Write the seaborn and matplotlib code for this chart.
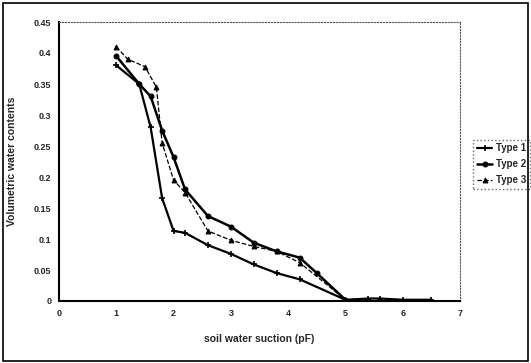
import pandas as pd
import seaborn as sns
import matplotlib.pyplot as plt
from matplotlib.patches import Rectangle

# pF values and volumetric water contents
pf_1 = [1.0, 1.4, 1.6, 1.8, 2.0, 2.2, 2.6, 3.0, 3.4, 3.8, 4.2, 5.0, 5.4, 5.6, 6.0, 6.5]
wc_1 = [0.38, 0.35, 0.28, 0.166, 0.113, 0.11, 0.09, 0.076, 0.059, 0.045, 0.035, 0.002, 0.004, 0.004, 0.002, 0.002]

pf_2 = [1.0, 1.4, 1.6, 1.8, 2.0, 2.2, 2.6, 3.0, 3.4, 3.8, 4.2, 4.5, 5.0]
wc_2 = [0.395, 0.35, 0.33, 0.275, 0.232, 0.18, 0.137, 0.12, 0.094, 0.08, 0.07, 0.045, 0.002]

pf_3 = [1.0, 1.2, 1.5, 1.7, 1.8, 2.0, 2.2, 2.6, 3.0, 3.4, 3.8, 4.2, 5.0]
wc_3 = [0.41, 0.39, 0.378, 0.345, 0.255, 0.195, 0.175, 0.113, 0.098, 0.088, 0.08, 0.062, 0.002]

labels = ['Type 1', 'Type 2', 'Type 3']

sns.set_style('white')
plt.rcParams['font.family'] = ['Liberation Sans', 'DejaVu Sans']
plt.rcParams['font.weight'] = 'bold'

fig = plt.figure(figsize=(5.31, 3.63), dpi=100)
fig.patches.append(Rectangle((0.006, 0.006), 0.988, 0.985, transform=fig.transFigure,
                             fill=False, edgecolor='black', linewidth=1.2))
ax = fig.add_axes([59 / 531, 1 - 301 / 363, 401 / 531, 279 / 363])

sns.lineplot(x=pf_1, y=wc_1, ax=ax, color='black', linewidth=1.6, marker='+',
             markersize=5, markeredgewidth=1.2, markeredgecolor='black', label=labels[0])
sns.lineplot(x=pf_2, y=wc_2, ax=ax, color='black', linewidth=1.8, marker='o',
             markersize=3.5, markeredgecolor='black', label=labels[1])
sns.lineplot(x=pf_3, y=wc_3, ax=ax, color='black', linewidth=0.9, linestyle='--',
             marker='^', markersize=3.5, markeredgecolor='black', label=labels[2])

ax.set_xlim(0, 7)
ax.set_ylim(0, 0.45)
ax.set_xticks(range(0, 8))
ax.set_yticks([0, 0.05, 0.1, 0.15, 0.2, 0.25, 0.3, 0.35, 0.4, 0.45])
ax.set_yticklabels(['0', '0.05', '0.1', '0.15', '0.2', '0.25', '0.3', '0.35', '0.4', '0.45'])
ax.tick_params(labelsize=6.5, length=2, direction='out', width=0.8)
for t in ax.get_xticklabels() + ax.get_yticklabels():
    t.set_fontweight('bold')

for side in ['left', 'bottom']:
    ax.spines[side].set_linewidth(1.5)
    ax.spines[side].set_color('black')
for side in ['top', 'right']:
    ax.spines[side].set_linewidth(0.8)
    ax.spines[side].set_color('#555555')
    ax.spines[side].set_linestyle(':')

ax.set_xlabel('soil water suction (pF)', fontsize=7.5, fontweight='bold', labelpad=12)
ax.set_ylabel('Volumetric water contents', fontsize=7.5, fontweight='bold', labelpad=12)

leg = ax.legend(loc='center left', bbox_to_anchor=(1.02, 0.49), fontsize=7,
                frameon=True, fancybox=False, handlelength=1.6, handletextpad=0.4,
                borderpad=0.4, labelspacing=0.6)
leg.get_frame().set_edgecolor('#444444')
leg.get_frame().set_linestyle(':')
for t in leg.get_texts():
    t.set_fontweight('bold')

fig.savefig('out.png', dpi=100)
